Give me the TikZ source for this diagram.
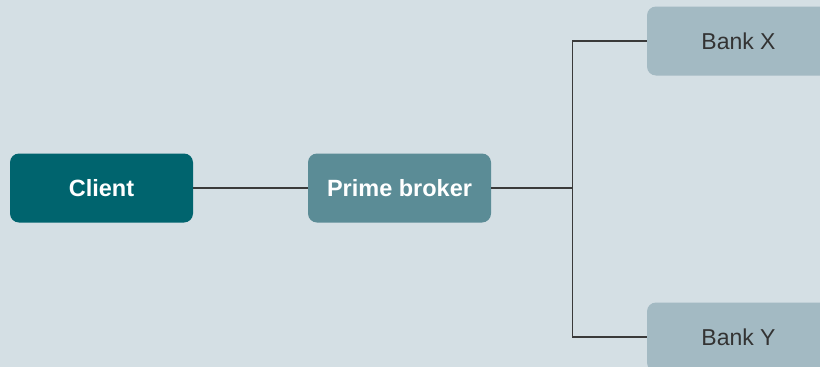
\documentclass[tikz,border=0pt]{standalone}
\usepackage{fontspec}
\setmainfont{Liberation Sans}
\definecolor{bgcol}{HTML}{D4DFE4}
\definecolor{clientcol}{HTML}{00646E}
\definecolor{brokercol}{HTML}{5B8C96}
\definecolor{bankcol}{HTML}{A3BAC3}
\definecolor{linecol}{HTML}{3A3A3A}
\definecolor{banktext}{HTML}{333333}
\begin{document}
\begin{tikzpicture}[x=1pt,y=-1pt,
  box/.style={rounded corners=9pt, minimum width=183pt, minimum height=69pt,
    inner sep=0pt, font=\fontsize{23}{26}\selectfont},
  strong/.style={text=white, font=\fontsize{23.5}{26}\selectfont\bfseries},
  link/.style={draw=linecol, line width=1.3pt}]
  % canvas
  \clip (0,0) rectangle (820,367);
  \fill[bgcol] (0,0) rectangle (820,367);
  % boxes
  \node[box, strong, fill=clientcol] (client) at (101.5,188) {Client};
  \node[box, strong, fill=brokercol] (broker) at (399.5,188) {Prime broker};
  \node[box, fill=bankcol, text=banktext] (bankx) at (738.5,41) {Bank X};
  \node[box, fill=bankcol, text=banktext] (banky) at (738.5,337) {Bank Y};
  % connectors
  \coordinate (split) at (572.5,188);
  \draw[link] (client.east) -- (broker.west);
  \draw[link] (broker.east) -- (split);
  \draw[link] (split) |- (bankx.west);
  \draw[link] (split) |- (banky.west);
\end{tikzpicture}
\end{document}
